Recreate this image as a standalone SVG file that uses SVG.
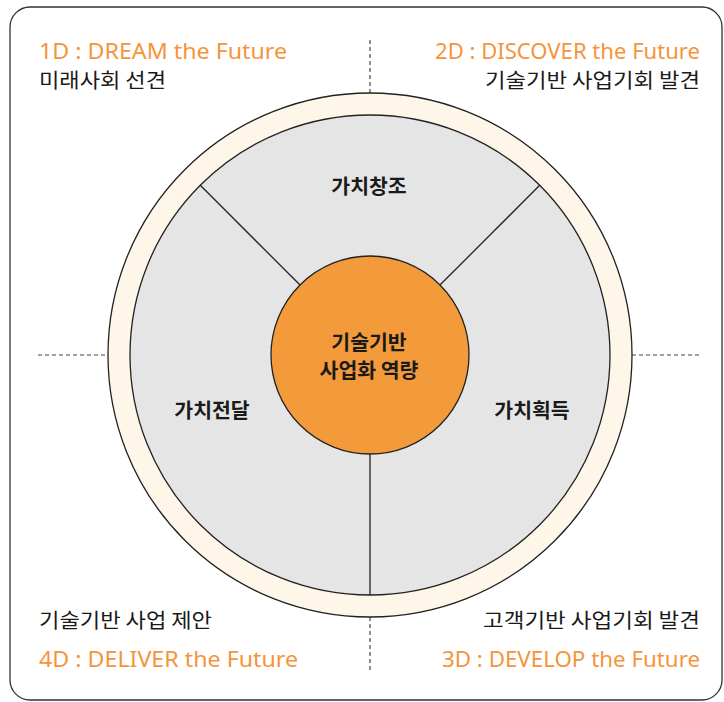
<svg xmlns="http://www.w3.org/2000/svg" width="724" height="702" viewBox="0 0 724 702">
<style>
.frame{fill:#fff;stroke:#333;stroke-width:1.3}
.dash{stroke:#444;stroke-width:1.2;stroke-dasharray:4 3;fill:none}
.line{stroke:#222;stroke-width:1.3;fill:none}
.en{font-family:"Noto Sans","Noto Sans CJK KR",sans-serif;font-size:22px;fill:#F5943A}
.ko{font-family:"Noto Sans CJK KR",sans-serif;font-size:20px;fill:#1a1a1a}
.lbl{font-family:"Noto Sans CJK KR",sans-serif;font-size:20.5px;font-weight:bold;fill:#1a1a1a;text-anchor:middle}
</style>
<rect class="frame" x="10" y="7" width="712" height="693" rx="20"/>
<g id="guides">
<line class="dash" x1="370" y1="40" x2="370" y2="94"/>
<line class="dash" x1="370" y1="617" x2="370" y2="673"/>
<line class="dash" x1="38" y1="355" x2="107" y2="355"/>
<line class="dash" x1="632" y1="355" x2="702" y2="355"/>
</g>
<g id="ring">
<circle cx="370" cy="355" r="262" fill="#FEF6E8" stroke="#222" stroke-width="1.3"/>
<circle cx="370" cy="355" r="240" fill="#E5E5E5" stroke="#222" stroke-width="1.3"/>
</g>
<g id="connectors">
<line class="line" x1="300.3" y1="285.3" x2="200.3" y2="185.3"/>
<line class="line" x1="439.7" y1="285.3" x2="539.7" y2="185.3"/>
<line class="line" x1="370" y1="454" x2="370" y2="595"/>
</g>
<g id="core">
<circle cx="370" cy="355" r="99" fill="#F39A3B" stroke="#222" stroke-width="1.3"/>
<text class="lbl" x="369" y="350">기술기반</text>
<text class="lbl" x="369" y="378">사업화 역량</text>
</g>
<g id="create"><text class="lbl" x="369" y="194">가치창조</text></g>
<g id="deliver"><text class="lbl" x="212" y="418">가치전달</text></g>
<g id="capture"><text class="lbl" x="532" y="418">가치획득</text></g>
<g id="d1">
<text class="en" x="39" y="59" textLength="248" lengthAdjust="spacingAndGlyphs">1D : DREAM the Future</text>
<text class="ko" x="39" y="88" textLength="127" lengthAdjust="spacingAndGlyphs">미래사회 선견</text>
</g>
<g id="d2">
<text class="en" x="435" y="59" textLength="265" lengthAdjust="spacingAndGlyphs">2D : DISCOVER the Future</text>
<text class="ko" x="485" y="88" textLength="215" lengthAdjust="spacingAndGlyphs">기술기반 사업기회 발견</text>
</g>
<g id="d4">
<text class="ko" x="39" y="628" textLength="173" lengthAdjust="spacingAndGlyphs">기술기반 사업 제안</text>
<text class="en" x="39" y="667" textLength="259" lengthAdjust="spacingAndGlyphs">4D : DELIVER the Future</text>
</g>
<g id="d3">
<text class="ko" x="483" y="628" textLength="217" lengthAdjust="spacingAndGlyphs">고객기반 사업기회 발견</text>
<text class="en" x="442" y="667" textLength="258" lengthAdjust="spacingAndGlyphs">3D : DEVELOP the Future</text>
</g>
</svg>
